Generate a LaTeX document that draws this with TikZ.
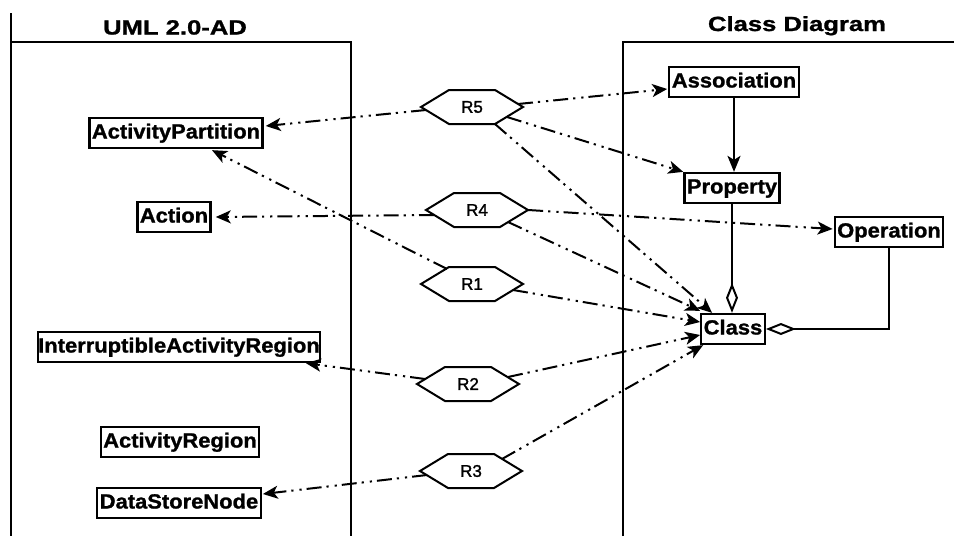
\documentclass[tikz,border=0pt]{standalone}
\usepackage{fontspec}
\setmainfont{Liberation Sans}
\newfontfamily\boxfont[FakeStretch=1.07,FakeBold=1.2]{Liberation Sans}
\newfontfamily\headfont[FakeStretch=1.25,FakeBold=1.2]{Liberation Sans}
\newfontfamily\rulefont[FakeBold=1.6]{Liberation Sans}
\usetikzlibrary{arrows.meta,calc}

\tikzset{
  frame/.style={line width=1.8pt},
  heading/.style={font=\headfont\bfseries\fontsize{20.5}{23}\selectfont, anchor=base, inner sep=0pt},
  classbox/.style={draw, line width=2.3pt, font=\boxfont\bfseries\fontsize{20.5}{23}\selectfont,
    inner xsep=2.5pt, inner ysep=0pt, minimum height=30pt, text height=15pt, text depth=4pt},
  hexbox/.style={draw=none, minimum width=102pt, minimum height=34pt, inner sep=0pt,
    font=\rulefont\fontsize{17}{19}\selectfont},
  hexline/.style={line width=2pt, line join=miter},
  mapping/.style={line width=2pt, dash pattern=on 15pt off 5pt on 2.2pt off 6pt on 2.2pt off 5pt,
    -{Stealth[length=15pt,width=13pt,inset=4pt]}},
  assocline/.style={line width=2pt, -{Stealth[length=16pt,width=13pt,inset=4pt]}},
  aggregation/.style={line width=2pt, -{Diamond[open,length=30pt,width=12pt]}},
}

% a named hexagon: name, centre, label
\newcommand\relhex[3]{%
  \node[hexbox] (#1) at (#2) {#3};
  \draw[hexline] ($(#1.center)+(-51,0)$) -- ($(#1.center)+(-23,-17)$) -- ($(#1.center)+(23,-17)$)
    -- ($(#1.center)+(51,0)$) -- ($(#1.center)+(23,17)$) -- ($(#1.center)+(-23,17)$) -- cycle;}

\begin{document}
\begin{tikzpicture}[x=1pt,y=-1pt]
\useasboundingbox (0,0) rectangle (954,536);

% the two model frames
\draw[frame] (11,13) -- (11,536);
\draw[frame] (11,42) -- (351,42) -- (351,536);
\draw[frame] (623,536) -- (623,42) -- (954,42);
\node[heading] (tad) at (175,34.5) {UML 2.0-AD};
\node[heading] (tcd) at (797,31) {Class Diagram};

% activity diagram metaclasses
\node[classbox] (ap)  at (176,133) {ActivityPartition};
\node[classbox] (act) at (174,217) {Action};
\node[classbox, inner xsep=0pt] (iar) at (179,347) {InterruptibleActivityRegion};
\node[classbox] (ar)  at (180,442) {ActivityRegion};
\node[classbox] (dsn) at (179,503) {DataStoreNode};

% class diagram metaclasses
\node[classbox] (assoc) at (734,82)  {Association};
\node[classbox] (prop)  at (732,188) {Property};
\node[classbox] (oper)  at (889,232) {Operation};
\node[classbox] (cls)   at (733,329) {Class};

% transformation rules
\relhex{r5}{472,107}{R5}
\relhex{r4}{477,210}{R4}
\relhex{r1}{472,284}{R1}
\relhex{r2}{468,384}{R2}
\relhex{r3}{471,471}{R3}

% class diagram relations
\draw[assocline] (assoc.south) -- (assoc.south |- prop.north);
\draw[aggregation] (prop.south) -- (prop.south |- cls.north);
\draw[aggregation] (oper.south) |- (cls.east);

% rule mappings
\draw[mapping] ($(r5.center)+(-46,3)$) -- ($(ap.east)+(2,-7)$);
\draw[mapping] ($(r5.center)+(46,-3)$) -- ($(assoc.west)+(-1,7)$);
\draw[mapping] ($(r5.center)+(35,10)$) -- (prop.north west);
\draw[mapping] ($(r5.center)+(23,17)$) -- ($(cls.north west)+(12,0)$);

\draw[mapping] ($(r4.center)+(-43,5)$) -- ($(act.east)+(4,0)$);
\draw[mapping] (r4.east) -- ($(oper.west)+(-1,-3)$);
\draw[mapping] ($(r4.center)+(31,12)$) -- ($(cls.north west)+(0,-2)$);

\draw[mapping] ($(r1.center)+(-25,-15)$) -- ($(ap.south)+(36,1)$);
\draw[mapping] ($(r1.center)+(41,6)$) -- ($(cls.west)+(0,-7)$);

\draw[mapping] ($(r2.center)+(-43,-5)$) -- ($(iar.south east)+(-15,0)$);
\draw[mapping] ($(r2.center)+(40,-7)$) -- ($(cls.west)+(0,6)$);

\draw[mapping] ($(r3.center)+(-44,4)$) -- ($(dsn.east)+(1,-9)$);
\draw[mapping] ($(r3.center)+(31,-12)$) -- ($(cls.south west)+(3,0)$);
\end{tikzpicture}
\end{document}
